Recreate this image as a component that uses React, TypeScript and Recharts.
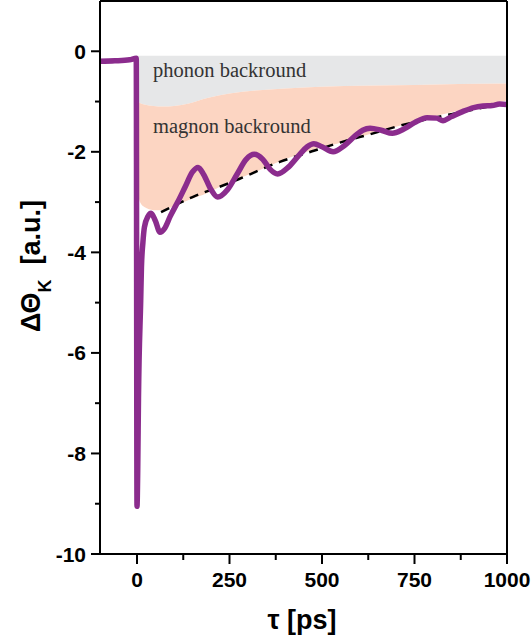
import {
  ComposedChart,
  Line,
  Area,
  XAxis,
  YAxis,
  ReferenceLine,
} from 'recharts';

// measured Kerr rotation trace
const tau = [
  -100, -60, -20, -2, 0, 2, 4, 10, 12, 16, 20, 30, 38, 50, 62, 75, 90, 110, 130, 150, 165, 180, 200,
  218, 245, 270, 295, 317, 340, 360, 380, 410, 440, 460, 478, 500, 530, 560, 590, 610, 630, 660,
  690, 720, 750, 784, 810, 827, 850, 880, 910, 935, 960, 980, 1000,
];
const kerr = [
  -0.2, -0.19, -0.17, -0.14, -9.05, -8.3, -6.9, -4.95, -4.3, -3.8, -3.5, -3.28, -3.22, -3.38, -3.6,
  -3.52, -3.28, -3.0, -2.7, -2.4, -2.31, -2.45, -2.75, -2.9, -2.75, -2.45, -2.15, -2.05, -2.15,
  -2.35, -2.44, -2.3, -2.05, -1.9, -1.84, -1.9, -2.0, -1.88, -1.68, -1.57, -1.53, -1.57, -1.63,
  -1.55, -1.42, -1.32, -1.33, -1.38, -1.3, -1.2, -1.12, -1.09, -1.08, -1.05, -1.06,
];

// exponential background guide (dashed)
const fitTau = [65, 150, 250, 386, 473, 570, 630, 711, 850, 1000];
const fitVal = [-3.2, -2.9, -2.62, -2.2, -1.99, -1.77, -1.65, -1.48, -1.25, -1.03];

// shaded background regions
const bgTau = [3, 8, 20, 45, 70, 100, 140, 190, 250, 320, 400, 480, 560, 650, 750, 870, 1000];
const phononTop = -0.09;
const phononEdge = [
  -1.0, -1.03, -1.06, -1.09, -1.1, -1.09, -1.04, -0.93, -0.84, -0.78, -0.74, -0.71, -0.69, -0.68,
  -0.67, -0.65, -0.64,
];
const magnonLow = [
  -2.85, -3.0, -3.1, -3.16, -3.16, -3.08, -2.96, -2.82, -2.6, -2.4, -2.15, -1.95, -1.8, -1.6,
  -1.4, -1.18, -0.98,
];

const xMajor = [0, 250, 500, 750, 1000];
const xTicks = [0, 125, 250, 375, 500, 625, 750, 875, 1000];
const yTicks = [-10, -9, -8, -7, -6, -5, -4, -3, -2, -1, 0];

const traceData = tau.map((t, i) => ({ tau: t, kerr: kerr[i] }));
const fitData = fitTau.map((t, i) => ({ tau: t, fit: fitVal[i] }));
const phononData = bgTau.map((t, i) => ({ tau: t, band: [phononEdge[i], phononTop] }));
const magnonData = bgTau.map((t, i) => ({ tau: t, band: [magnonLow[i], phononEdge[i]] }));

const boldFont = { fontFamily: 'Liberation Sans, Arial, sans-serif', fontWeight: 700 };
const serif = 'Liberation Serif, Times New Roman, serif';

const XTick = (props: any) => {
  const { x, y, payload } = props;
  const major = xMajor.includes(payload.value);
  return (
    <g>
      <line x1={x} x2={x} y1={y} y2={y + (major ? 10 : 6)} stroke="#000" strokeWidth={2} />
      {major && (
        <text x={x} y={y + 33} textAnchor="middle" fontSize={21} fill="#000" style={boldFont}>
          {payload.value}
        </text>
      )}
    </g>
  );
};

const YTick = (props: any) => {
  const { x, y, payload } = props;
  const major = payload.value % 2 === 0;
  return (
    <g>
      <line x1={x - (major ? 9 : 5)} x2={x} y1={y} y2={y} stroke="#000" strokeWidth={2} />
      {major && (
        <text x={x - 14} y={y + 7.5} textAnchor="end" fontSize={21} fill="#000" style={boldFont}>
          {payload.value}
        </text>
      )}
    </g>
  );
};

export default function App() {
  return (
    <div style={{ position: 'absolute', left: 0, top: 0, width: 532, height: 642, background: '#fff' }}>
      <ComposedChart width={532} height={642} margin={{ top: 1, right: 25, bottom: 0, left: 0 }}>
        <XAxis
          dataKey="tau"
          type="number"
          domain={[-100, 1000]}
          ticks={xTicks}
          interval={0}
          allowDataOverflow
          tickSize={0}
          tickMargin={0}
          tick={<XTick />}
          height={88}
          axisLine={{ stroke: '#000', strokeWidth: 2 }}
        />
        <YAxis
          type="number"
          domain={[-10, 1]}
          ticks={yTicks}
          interval={0}
          allowDataOverflow
          tickSize={0}
          tickMargin={0}
          tick={<YTick />}
          width={100}
          axisLine={{ stroke: '#000', strokeWidth: 2 }}
        />
        <Area
          data={phononData}
          dataKey="band"
          type="monotone"
          stroke="none"
          fill="#e6e7e8"
          fillOpacity={1}
          isAnimationActive={false}
        />
        <Area
          data={magnonData}
          dataKey="band"
          type="monotone"
          stroke="none"
          fill="#fcd5c2"
          fillOpacity={1}
          isAnimationActive={false}
        />
        <Line
          data={fitData}
          dataKey="fit"
          type="monotone"
          stroke="#000"
          strokeWidth={2.5}
          strokeDasharray="9 7"
          dot={false}
          isAnimationActive={false}
        />
        <Line
          data={traceData}
          dataKey="kerr"
          type="monotone"
          stroke="#8b2c8d"
          strokeWidth={5.5}
          dot={false}
          isAnimationActive={false}
        />
        <ReferenceLine x={1000} stroke="#000" strokeWidth={2} />
        <ReferenceLine y={1} stroke="#000" strokeWidth={2} />
      </ComposedChart>
      <svg
        width={532}
        height={642}
        style={{ position: 'absolute', left: 0, top: 0, pointerEvents: 'none' }}
      >
        <text x={153} y={77} fontSize={20.5} fill="#333" fontFamily={serif}>
          phonon backround
        </text>
        <text x={153} y={133} fontSize={20.5} fill="#333" fontFamily={serif}>
          magnon backround
        </text>
        <text x={302} y={629} textAnchor="middle" fontSize={27} fill="#000" style={boldFont}>
          τ [ps]
        </text>
        <text
          transform="translate(40, 266) rotate(-90)"
          textAnchor="middle"
          fontSize={27}
          fill="#000"
          style={boldFont}
        >
          ΔΘ
          <tspan fontSize={18} dy={11}>K</tspan>
          <tspan dy={-11}>{'\u00a0\u00a0[a.u.]'}</tspan>
        </text>
      </svg>
    </div>
  );
}
